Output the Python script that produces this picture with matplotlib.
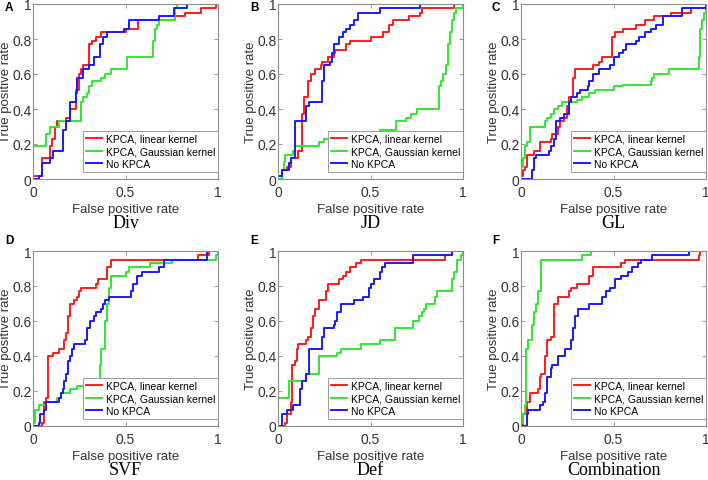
import matplotlib.pyplot as plt

# ROC step points: at each x the curve jumps up to y
div_lin_x = [0, 0, 0.05, 0.09, 0.10, 0.12, 0.13, 0.18, 0.20, 0.23, 0.25, 0.26, 0.27, 0.30, 0.32, 0.34, 0.37, 0.50, 0.57, 0.77, 0.82, 0.91, 0.99, 1]
div_lin_y = [0, 0.02, 0.12, 0.19, 0.23, 0.30, 0.33, 0.35, 0.40, 0.51, 0.60, 0.63, 0.65, 0.77, 0.79, 0.81, 0.84, 0.86, 0.91, 0.93, 0.95, 0.98, 1.0, 1.0]
div_gau_x = [0, 0, 0.07, 0.09, 0.14, 0.26, 0.27, 0.29, 0.30, 0.32, 0.37, 0.39, 0.42, 0.51, 0.65, 0.66, 0.67, 0.68, 0.77, 0.78, 1]
div_gau_y = [0, 0.19, 0.26, 0.30, 0.33, 0.44, 0.47, 0.49, 0.53, 0.56, 0.58, 0.60, 0.63, 0.70, 0.79, 0.86, 0.88, 0.91, 0.98, 1.0, 1.0]
div_no_x = [0, 0.03, 0.05, 0.09, 0.11, 0.16, 0.18, 0.20, 0.23, 0.24, 0.27, 0.30, 0.33, 0.36, 0.38, 0.40, 0.49, 0.52, 0.68, 0.76, 0.83, 1]
div_no_y = [0, 0.02, 0.09, 0.12, 0.16, 0.28, 0.33, 0.44, 0.49, 0.58, 0.63, 0.65, 0.70, 0.77, 0.81, 0.84, 0.86, 0.91, 0.93, 0.98, 1.0, 1.0]

jd_lin_x = [0, 0, 0.02, 0.05, 0.07, 0.11, 0.13, 0.14, 0.16, 0.18, 0.20, 0.23, 0.24, 0.27, 0.30, 0.31, 0.37, 0.39, 0.50, 0.57, 0.60, 0.62, 0.71, 0.77, 0.78, 0.95, 1]
jd_lin_y = [0, 0.02, 0.05, 0.07, 0.12, 0.16, 0.37, 0.47, 0.56, 0.60, 0.63, 0.65, 0.67, 0.70, 0.72, 0.74, 0.77, 0.79, 0.81, 0.84, 0.88, 0.91, 0.93, 0.95, 0.98, 1.0, 1.0]
jd_gau_x = [0, 0.02, 0.03, 0.04, 0.08, 0.09, 0.22, 0.25, 0.45, 0.55, 0.64, 0.69, 0.72, 0.75, 0.87, 0.88, 0.89, 0.91, 0.92, 0.93, 0.94, 0.95, 0.96, 1]
jd_gau_y = [0, 0.05, 0.10, 0.14, 0.16, 0.19, 0.21, 0.23, 0.26, 0.28, 0.33, 0.35, 0.37, 0.40, 0.53, 0.56, 0.60, 0.65, 0.77, 0.84, 0.91, 0.95, 0.98, 1.0]
jd_no_x = [0, 0, 0.02, 0.06, 0.07, 0.09, 0.15, 0.17, 0.24, 0.25, 0.28, 0.29, 0.30, 0.33, 0.35, 0.37, 0.39, 0.41, 0.43, 0.55, 0.77, 1]
jd_no_y = [0, 0.02, 0.05, 0.09, 0.12, 0.33, 0.42, 0.44, 0.56, 0.65, 0.67, 0.72, 0.77, 0.81, 0.84, 0.86, 0.88, 0.91, 0.95, 0.98, 1.0, 1.0]

gl_lin_x = [0, 0, 0.01, 0.02, 0.03, 0.07, 0.10, 0.16, 0.17, 0.20, 0.21, 0.23, 0.25, 0.26, 0.28, 0.29, 0.39, 0.42, 0.44, 0.49, 0.51, 0.55, 0.62, 0.67, 0.72, 0.81, 0.92, 1]
gl_lin_y = [0, 0.02, 0.05, 0.07, 0.14, 0.16, 0.21, 0.23, 0.26, 0.30, 0.33, 0.35, 0.42, 0.47, 0.58, 0.63, 0.65, 0.67, 0.70, 0.81, 0.84, 0.86, 0.88, 0.91, 0.93, 0.95, 0.98, 1.0]
gl_gau_x = [0, 0, 0.01, 0.02, 0.03, 0.05, 0.13, 0.14, 0.16, 0.18, 0.20, 0.22, 0.30, 0.33, 0.37, 0.40, 0.50, 0.55, 0.70, 0.71, 0.72, 0.80, 0.96, 0.97, 0.98, 0.99, 1]
gl_gau_y = [0, 0.07, 0.12, 0.19, 0.21, 0.30, 0.33, 0.35, 0.37, 0.40, 0.42, 0.44, 0.45, 0.47, 0.49, 0.51, 0.53, 0.54, 0.56, 0.58, 0.60, 0.63, 0.70, 0.86, 0.91, 0.95, 1.0]
gl_no_x = [0, 0.06, 0.07, 0.08, 0.15, 0.16, 0.18, 0.19, 0.21, 0.23, 0.26, 0.27, 0.30, 0.32, 0.36, 0.37, 0.39, 0.42, 0.48, 0.50, 0.53, 0.55, 0.57, 0.62, 0.64, 0.67, 0.70, 0.73, 0.77, 0.87, 1]
gl_no_y = [0, 0.05, 0.12, 0.14, 0.16, 0.19, 0.23, 0.33, 0.35, 0.37, 0.44, 0.47, 0.49, 0.51, 0.53, 0.56, 0.60, 0.63, 0.65, 0.70, 0.72, 0.74, 0.77, 0.79, 0.81, 0.84, 0.86, 0.88, 0.93, 0.98, 1.0]

svf_lin_x = [0, 0.05, 0.06, 0.07, 0.08, 0.11, 0.14, 0.17, 0.18, 0.19, 0.20, 0.22, 0.24, 0.25, 0.26, 0.34, 0.35, 0.40, 0.42, 0.89, 0.95, 1]
svf_lin_y = [0, 0.02, 0.14, 0.16, 0.40, 0.42, 0.44, 0.49, 0.53, 0.63, 0.70, 0.72, 0.74, 0.77, 0.79, 0.81, 0.84, 0.91, 0.95, 0.98, 1.0, 1.0]
svf_gau_x = [0, 0, 0.01, 0.03, 0.07, 0.13, 0.15, 0.20, 0.24, 0.34, 0.36, 0.37, 0.39, 0.40, 0.41, 0.42, 0.50, 0.52, 0.63, 0.75, 0.99, 1]
svf_gau_y = [0, 0.02, 0.09, 0.12, 0.14, 0.16, 0.19, 0.21, 0.23, 0.26, 0.35, 0.44, 0.60, 0.70, 0.79, 0.86, 0.88, 0.91, 0.93, 0.95, 0.98, 1.0]
svf_no_x = [0, 0.03, 0.04, 0.06, 0.07, 0.14, 0.15, 0.16, 0.17, 0.18, 0.19, 0.20, 0.21, 0.22, 0.28, 0.29, 0.31, 0.33, 0.34, 0.37, 0.38, 0.39, 0.41, 0.53, 0.54, 0.56, 0.59, 0.68, 0.71, 0.94, 1]
svf_no_y = [0, 0.02, 0.07, 0.09, 0.14, 0.16, 0.19, 0.21, 0.26, 0.30, 0.37, 0.40, 0.44, 0.47, 0.49, 0.56, 0.60, 0.63, 0.65, 0.67, 0.70, 0.72, 0.74, 0.77, 0.81, 0.86, 0.88, 0.91, 0.95, 1.0, 1.0]

def_lin_x = [0, 0.04, 0.05, 0.07, 0.075, 0.09, 0.10, 0.11, 0.15, 0.16, 0.18, 0.19, 0.20, 0.22, 0.26, 0.27, 0.33, 0.35, 0.37, 0.39, 0.42, 0.45, 0.90, 0.94, 1]
def_lin_y = [0, 0.02, 0.07, 0.14, 0.35, 0.37, 0.44, 0.47, 0.49, 0.51, 0.56, 0.63, 0.67, 0.72, 0.77, 0.81, 0.84, 0.86, 0.88, 0.91, 0.93, 0.95, 0.98, 1.0, 1.0]
def_gau_x = [0, 0, 0.06, 0.15, 0.22, 0.32, 0.34, 0.45, 0.55, 0.63, 0.73, 0.76, 0.78, 0.79, 0.80, 0.85, 0.86, 0.94, 0.95, 0.97, 0.99, 1]
def_gau_y = [0, 0.16, 0.26, 0.30, 0.40, 0.42, 0.44, 0.47, 0.49, 0.56, 0.60, 0.63, 0.65, 0.67, 0.70, 0.74, 0.77, 0.84, 0.88, 0.95, 0.98, 1.0]
def_no_x = [0, 0.02, 0.05, 0.08, 0.12, 0.13, 0.15, 0.17, 0.24, 0.25, 0.30, 0.31, 0.32, 0.34, 0.41, 0.46, 0.49, 0.50, 0.52, 0.55, 0.56, 0.58, 0.73, 0.94, 1]
def_no_y = [0, 0.07, 0.09, 0.12, 0.21, 0.26, 0.30, 0.44, 0.51, 0.56, 0.58, 0.60, 0.65, 0.70, 0.72, 0.74, 0.79, 0.81, 0.84, 0.88, 0.91, 0.93, 0.98, 1.0, 1.0]

com_lin_x = [0, 0.01, 0.03, 0.05, 0.09, 0.10, 0.11, 0.13, 0.14, 0.16, 0.18, 0.20, 0.26, 0.27, 0.30, 0.37, 0.39, 0.54, 0.56, 0.96, 0.97, 1]
com_lin_y = [0, 0.07, 0.14, 0.19, 0.21, 0.28, 0.30, 0.40, 0.49, 0.51, 0.70, 0.74, 0.77, 0.79, 0.81, 0.86, 0.91, 0.93, 0.95, 0.98, 1.0, 1.0]
com_gau_x = [0, 0, 0.01, 0.02, 0.025, 0.04, 0.06, 0.07, 0.08, 0.09, 0.11, 0.33, 0.38, 1]
com_gau_y = [0, 0.02, 0.07, 0.12, 0.44, 0.49, 0.58, 0.65, 0.70, 0.77, 0.95, 0.98, 1.0, 1.0]
com_no_x = [0, 0.03, 0.04, 0.10, 0.12, 0.13, 0.14, 0.16, 0.17, 0.20, 0.24, 0.27, 0.28, 0.29, 0.31, 0.37, 0.44, 0.46, 0.48, 0.51, 0.54, 0.58, 0.60, 0.63, 0.65, 0.71, 0.91, 1]
com_no_y = [0, 0.07, 0.09, 0.12, 0.14, 0.19, 0.28, 0.33, 0.35, 0.40, 0.44, 0.49, 0.56, 0.63, 0.67, 0.70, 0.74, 0.77, 0.79, 0.84, 0.86, 0.88, 0.91, 0.93, 0.95, 0.98, 1.0, 1.0]

panels = [
    ('A', 'Div', div_lin_x, div_lin_y, div_gau_x, div_gau_y, div_no_x, div_no_y),
    ('B', 'JD', jd_lin_x, jd_lin_y, jd_gau_x, jd_gau_y, jd_no_x, jd_no_y),
    ('C', 'GL', gl_lin_x, gl_lin_y, gl_gau_x, gl_gau_y, gl_no_x, gl_no_y),
    ('D', 'SVF', svf_lin_x, svf_lin_y, svf_gau_x, svf_gau_y, svf_no_x, svf_no_y),
    ('E', 'Def', def_lin_x, def_lin_y, def_gau_x, def_gau_y, def_no_x, def_no_y),
    ('F', 'Combination', com_lin_x, com_lin_y, com_gau_x, com_gau_y, com_no_x, com_no_y),
]
labels = ['KPCA, linear kernel', 'KPCA, Gaussian kernel', 'No KPCA']
colors = ['#ff1a1a', '#33e633', '#1a1aff']

plt.rcParams['font.family'] = ['Liberation Sans', 'DejaVu Sans']

W, H = 708, 481
fig = plt.figure(figsize=(W / 100, H / 100), dpi=100)

lefts = [33, 278, 521]
tops = [5, 252]
letter_x = [5, 250, 492]
letter_y = [8, 241]
aw, ah = 185, 175

for i, (letter, name, lx, ly, gx, gy, nx, ny) in enumerate(panels):
    r, c = divmod(i, 3)
    ax = fig.add_axes([lefts[c] / W, 1 - (tops[r] + ah) / H, aw / W, ah / H])
    for xs, ys, col, lab in [(lx, ly, colors[0], labels[0]),
                             (gx, gy, colors[1], labels[1]),
                             (nx, ny, colors[2], labels[2])]:
        ax.plot(xs, ys, drawstyle='steps-post', color=col, lw=1.4, label=lab)
    ax.set_xlim(0, 1)
    ax.set_ylim(0, 1)
    ax.set_xticks([0, 0.5, 1])
    ax.set_xticklabels(['0', '0.5', '1'])
    ax.set_yticks([0, 0.2, 0.4, 0.6, 0.8, 1])
    ax.set_yticklabels(['0', '0.2', '0.4', '0.6', '0.8', '1'])
    ax.tick_params(direction='in', top=True, right=True, length=3, width=0.6,
                   labelsize=10, colors='#888888', labelcolor='#333333')
    ax.tick_params(axis='x', pad=4)
    ax.tick_params(axis='y', pad=1)
    for s in ax.spines.values():
        s.set_color('#8c8c8c')
        s.set_linewidth(0.8)
    ax.set_xlabel('False positive rate', fontsize=9.5, color='#333333', labelpad=3)
    ax.set_ylabel('True positive rate', fontsize=9.5, color='#333333', labelpad=0)
    leg = ax.legend(loc='lower right', bbox_to_anchor=(1.0, 0.04), fontsize=7.5,
                    handlelength=1.6, handletextpad=0.3, borderpad=0.3,
                    labelspacing=0.25, fancybox=False, framealpha=1,
                    edgecolor='#8c8c8c', borderaxespad=0)
    leg.get_frame().set_linewidth(0.6)
    ax.text(0.5, -0.2, name, transform=ax.transAxes, ha='center', va='top',
            fontsize=13, family='Liberation Serif')
    fig.text(letter_x[c] / W, 1 - letter_y[r] / H, letter,
             fontsize=8.5, fontweight='bold', ha='left', va='center')

fig.savefig('out.png', dpi=100)
